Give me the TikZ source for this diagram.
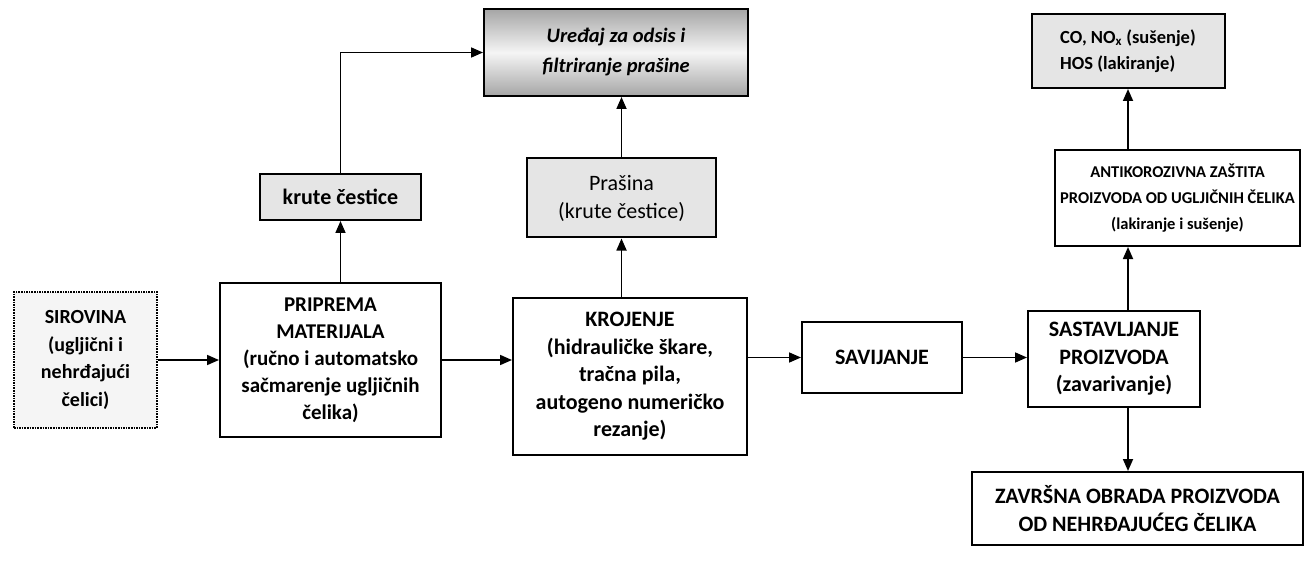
\documentclass[tikz,border=0pt]{standalone}
\usepackage{fontspec}
\setmainfont{Carlito}
\usetikzlibrary{arrows.meta,calc,positioning}

\newcommand{\fsz}[2]{\fontsize{#1}{#2}\selectfont}

\begin{document}
\begin{tikzpicture}[x=1pt,y=-1pt,
    box/.style={draw,line width=2pt,align=center,inner sep=0pt,font=\bfseries\fsz{22}{27.5}},
    greybox/.style={box,fill=black!10},
    flow/.style={line width=1.7pt,-{Triangle[length=12pt,width=10pt]}}]
  \useasboundingbox (0,0) rectangle (1313,561);

  % upper row: what goes out
  \node[box,minimum width=264,minimum height=87,top color=black!35,bottom color=black!35,middle color=black!4,
        font=\bfseries\itshape\fsz{20.5}{30}] (uredaj) at (616,52.5) {Uređaj za odsis i\\filtriranje prašine};
  \node[greybox,minimum width=161,minimum height=46] (krute) at (340.5,197) {krute čestice};
  \node[greybox,minimum width=189,minimum height=79,font=\fsz{22}{28}] (prasina) at (621.5,198) {Prašina\\(krute čestice)};
  \node[greybox,minimum width=193,minimum height=74,align=left,font=\bfseries\fsz{18.5}{26}] (co) at (1128,51)
        {CO, NO\textsubscript{x} (sušenje)\\HOS (lakiranje)};
  \node[box,minimum width=245,minimum height=96,font=\bfseries\fsz{16.5}{26}] (antikor) at (1177.5,198)
        {ANTIKOROZIVNA ZAŠTITA\\PROIZVODA OD UGLJIČNIH ČELIKA\\(lakiranje i sušenje)};

  % main row
  \node[box,line width=1.6pt,densely dotted,fill=black!4,minimum width=143,minimum height=136,font=\bfseries\fsz{20}{27.5}] (sirovina) at (85.5,360)
        {SIROVINA\\(ugljični i\\nehrđajući\\čelici)};
  \node[box,minimum width=221,minimum height=154,font=\bfseries\fsz{21}{27}] (priprema) at (330.5,360)
        {PRIPREMA\\MATERIJALA\\(ručno i automatsko\\sačmarenje ugljičnih\\čelika)};
  \node[box,minimum width=234,minimum height=157] (krojenje) at (630,376.5)
        {KROJENJE\\(hidrauličke škare,\\tračna pila,\\autogeno numeričko\\rezanje)};
  \node[box,minimum width=160,minimum height=71] (savijanje) at (882,357.5) {SAVIJANJE};
  \node[box,minimum width=172,minimum height=96] (sastav) at (1114,359)
        {SASTAVLJANJE\\PROIZVODA\\(zavarivanje)};
  \node[box,minimum width=331,minimum height=73] (zavrsna) at (1137.5,508.5)
        {ZAVRŠNA OBRADA PROIZVODA\\OD NEHRĐAJUĆEG ČELIKA};

  % connectors
  \draw[flow] (sirovina) -- (priprema);
  \draw[flow] (priprema.east) -- (priprema.east -| krojenje.west);
  \draw[flow] (krojenje.east |- savijanje.west) -- (savijanje.west);
  \draw[flow] (savijanje.east) -- (savijanje.east -| sastav.west);

  \draw[flow] (krute.south |- priprema.north) -- (krute.south);
  \draw[flow] (krute.north) |- (uredaj.west);
  \draw[flow] (prasina.south |- krojenje.north) -- (prasina.south);
  \draw[flow] (prasina.north) -- (prasina.north |- uredaj.south);

  \draw[flow] (sastav.north -| co.south) -- (antikor.south -| co.south);
  \draw[flow] (antikor.north -| co.south) -- (co.south);
  \draw[flow] (sastav.south -| co.south) -- (zavrsna.north -| co.south);
\end{tikzpicture}
\end{document}
